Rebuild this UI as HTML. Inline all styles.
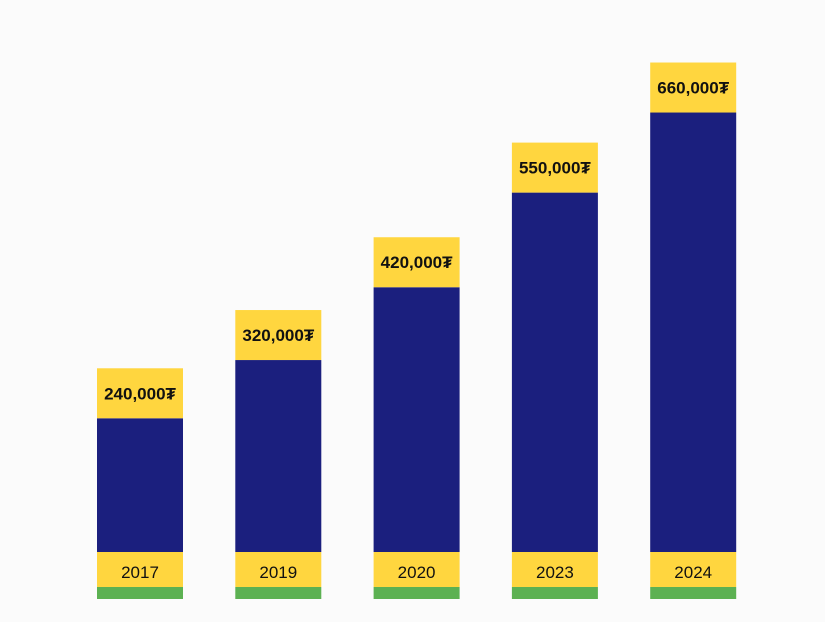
<!DOCTYPE html>
<html><head><meta charset="utf-8"><style>
html,body{margin:0;padding:0;background:#fbfbfb;}
svg{display:block;font-family:"Liberation Sans",sans-serif;}
</style></head><body>
<svg id="chart" width="825" height="622" viewBox="0 0 825 622" xmlns="http://www.w3.org/2000/svg">
<rect x="0" y="0" width="825" height="622" fill="#fbfbfb"/>
<g id="bars"></g>
</svg>
<script>
const categories = ["2017","2019","2020","2023","2024"];
const values = [240000,320000,420000,550000,660000];
const valueLabels = ["240,000₮","320,000₮","420,000₮","550,000₮","660,000₮"];

const baseY = 552, barW = 86, x0 = 97, step = 138.3;
function xPos(i){ return x0 + i*step; }
function hScale(v){ return 0.000728*v - 41; }
const NS = "http://www.w3.org/2000/svg";
const g = document.getElementById('bars');
function mk(tag, attrs){ const e=document.createElementNS(NS,tag); for(const k in attrs) e.setAttribute(k,attrs[k]); g.appendChild(e); return e; }
categories.forEach((c,i)=>{
  const x = xPos(i), h = hScale(values[i]), top = baseY - h;
  const b = mk('rect',{x:x,y:top,width:barW,height:h,fill:'#1b1f7e'});
  
  
  const cap = mk('rect',{x:x,y:top-50,width:barW,height:50,fill:'#ffd63f'});
  
  
  const vt = mk('text',{x:x+barW/2,y:top-19,'text-anchor':'middle','font-size':'17','font-weight':'bold',fill:'#111'});
  vt.textContent = valueLabels[i];
  
  
  const yb = mk('rect',{x:x,y:baseY,width:barW,height:35,fill:'#ffd63f'});
  
  
  const gb = mk('rect',{x:x,y:baseY+35,width:barW,height:12,fill:'#5cb152'});
  
  
  const yt = mk('text',{x:x+barW/2,y:baseY+26,'text-anchor':'middle','font-size':'17',fill:'#111'});
  yt.textContent = c;
  
  
});
</script>
</body></html>
